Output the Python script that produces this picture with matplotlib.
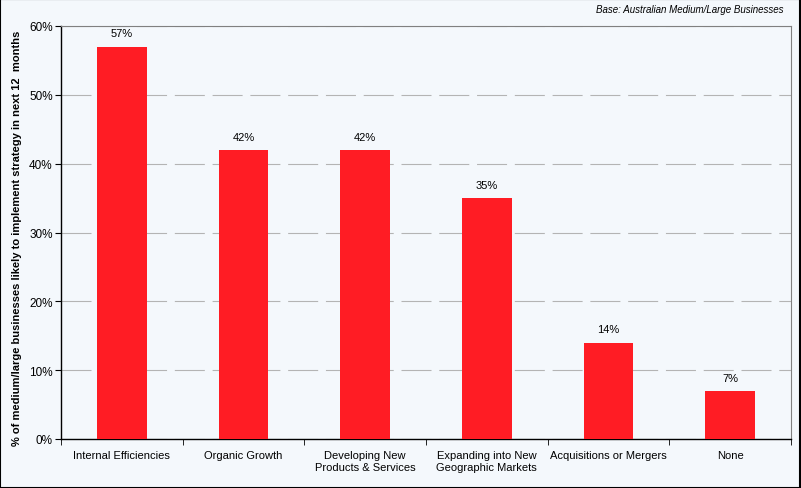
import matplotlib.pyplot as plt
import numpy as np

categories = ['Internal Efficiencies', 'Organic Growth', 'Developing New\nProducts & Services',
              'Expanding into New\nGeographic Markets', 'Acquisitions or Mergers', 'None']
values = [57, 42, 42, 35, 14, 7]

plt.rcParams['font.family'] = ['Liberation Sans', 'DejaVu Sans']
plt.rcParams['font.size'] = 8

bg = '#F4F8FC'
fig = plt.figure(figsize=(8.01, 4.89), dpi=100, facecolor=bg)
ax = fig.add_axes([61 / 801, 1 - 440 / 489, 730 / 801, 413 / 489])
ax.set_facecolor(bg)

ind = np.arange(len(categories))
bars = ax.bar(ind, values, 0.41, color='#FF1C24', zorder=3)
for x, v in zip(ind, values):
    ax.text(x, v + 1.2, '%d%%' % v, ha='center', va='bottom', fontsize=8)

ax.set_xlim(-0.5, len(categories) - 0.5)
ax.set_ylim(0, 60)
ax.set_yticks(np.arange(0, 61, 10))
ax.set_yticklabels(['%d%%' % t for t in range(0, 61, 10)], fontsize=8.5)
ax.set_xticks(ind)
ax.set_xticklabels(categories)
ax.set_xticks(np.arange(-0.5, len(categories), 1), minor=True)
ax.tick_params(axis='x', which='major', length=0, pad=8)
ax.tick_params(axis='x', which='minor', length=4, direction='out')
ax.tick_params(axis='y', length=4, direction='out', pad=2)
ax.yaxis.grid(True, color='#B4B4B4', linestyle=(0, (27, 7)), linewidth=0.8, zorder=0)
ax.set_axisbelow(True)

for s in ['top', 'right']:
    ax.spines[s].set_color('#808080')
    ax.spines[s].set_linewidth(0.8)
for s in ['left', 'bottom']:
    ax.spines[s].set_color('black')
    ax.spines[s].set_linewidth(1)

ax.set_ylabel('% of medium/large businesses likely to implement strategy in next 12  months',
              fontsize=8, fontweight='bold')
ax.yaxis.set_label_coords(-0.0534, 0.489)
fig.text(784 / 801, 1 - 10 / 489, 'Base: Australian Medium/Large Businesses',
         ha='right', va='center', style='italic', fontsize=7)

fig.patches.append(plt.Rectangle((0.0006, 0.001), 0.998, 0.998, transform=fig.transFigure,
                                 fill=False, edgecolor='black', linewidth=1.5))

fig.savefig('out.png', dpi=100, facecolor=bg)
